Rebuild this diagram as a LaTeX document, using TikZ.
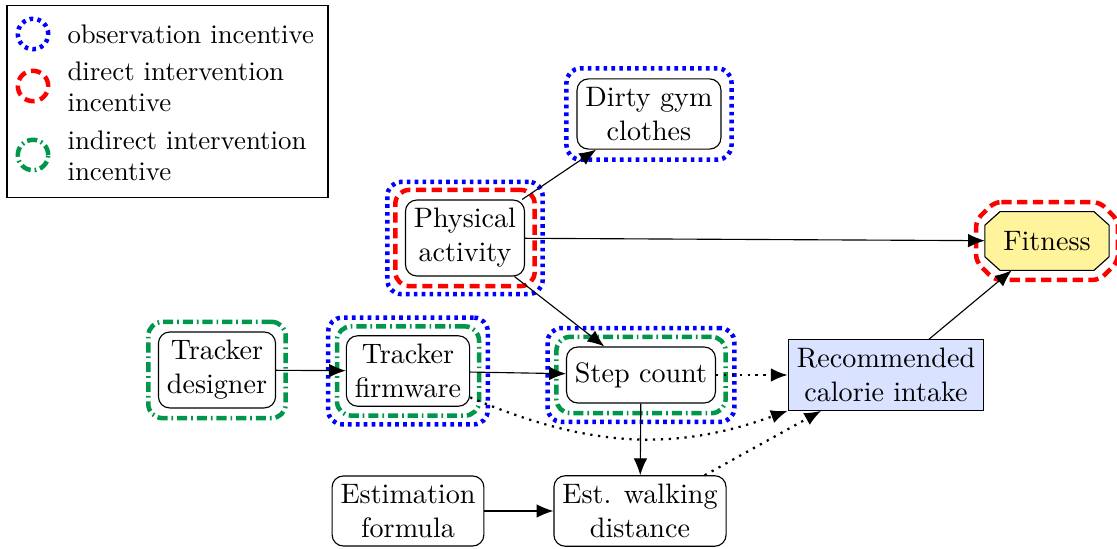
\documentclass[tikz,border=0pt]{standalone}
\usepackage{tikz}
\usetikzlibrary{arrows.meta,fit}
\definecolor{incgreen}{RGB}{0,150,75}
\definecolor{fityellow}{RGB}{255,243,155}
\definecolor{decblue}{RGB}{217,226,255}

\begin{document}
\begin{tikzpicture}[
						x=0.0125cm,
						y=-0.0125cm,
						>={Latex[length=2.1mm,width=1.7mm]},
						var/.style={draw, rounded corners=4pt, align=center, inner sep=3pt, minimum height=0.7cm},
						util/.style={inner sep=0, minimum width=1.54cm, minimum height=0.72cm},
						decision/.style={draw, rectangle, fill=decblue, align=center, inner sep=3pt},
						legendtext/.style={anchor=west, align=left, inner sep=0, font=\fontsize{9.55pt}{11pt}\selectfont},
						obsinc/.style={draw=blue, line width=1.6pt, dash pattern=on 1.3pt off 1.5pt, rounded corners=5pt},
						dirinc/.style={draw=red, line width=1.6pt, dash pattern=on 3.6pt off 2pt, rounded corners=5pt},
						indinc/.style={draw=incgreen, line width=1.6pt, dash pattern=on 3.6pt off 1.4pt on 0.6pt off 1.4pt, rounded corners=5pt},
						info/.style={->, line width=0.8pt, dash pattern=on 0.8pt off 2pt}
					]
					\useasboundingbox (0,0) rectangle (1117,549);
					\node[draw, inner sep=0, minimum width=4.01cm, minimum height=2.39cm] (legend) at (167.5,101.5) {};
					\node[obsinc, circle, inner sep=0, minimum size=0.38cm] (lobs) at (33,34) {};
					\node[dirinc, circle, inner sep=0, minimum size=0.38cm] (ldir) at (33,86) {};
					\node[indinc, circle, inner sep=0, minimum size=0.38cm] (lind) at (33,155) {};
					\node[legendtext] (tobs) at (67,34) {observation incentive};
					\node[legendtext] (tdir) at (67,87) {direct intervention\\incentive};
					\node[legendtext] (tind) at (67,156) {indirect intervention\\incentive};
					\node[var] (dgc) at (649,114) {Dirty gym\\clothes};
					\node[var] (pa) at (465,238) {Physical\\activity};
					\node[util] (fitness) at (1047,241) {};
					\node[decision] (rci) at (886,375) {Recommended\\calorie intake};
					\node[var] (td) at (217,370) {Tracker\\designer};
					\node[var] (tf) at (408,371) {Tracker\\firmware};
					\node[var] (sc) at (641,375) {Step count};
					\node[var] (ef) at (408,511) {Estimation\\formula};
					\node[var] (ewd) at (640,511) {Est. walking\\distance};
					\draw[fill=fityellow] ([xshift=0.19cm]fitness.north west) -- ([xshift=-0.19cm]fitness.north east) -- ([yshift=-0.17cm]fitness.north east) -- ([yshift=0.17cm]fitness.south east) -- ([xshift=-0.19cm]fitness.south east) -- ([xshift=0.19cm]fitness.south west) -- ([yshift=0.17cm]fitness.south west) -- ([yshift=-0.17cm]fitness.north west) -- cycle;
					\node at (fitness.center) {Fitness};
					\draw[dirinc, rounded corners=2.5pt] ([shift={(0.12cm,0.12cm)}]fitness.north west) -- ([shift={(-0.12cm,0.12cm)}]fitness.north east) -- ([shift={(0.11cm,-0.11cm)}]fitness.north east) -- ([shift={(0.11cm,0.11cm)}]fitness.south east) -- ([shift={(-0.12cm,-0.12cm)}]fitness.south east) -- ([shift={(0.12cm,-0.12cm)}]fitness.south west) -- ([shift={(-0.11cm,0.11cm)}]fitness.south west) -- ([shift={(-0.11cm,-0.11cm)}]fitness.north west) -- cycle;
					\node[obsinc, fit=(dgc), inner sep=0.125cm] (dgcobs) {};
					\node[dirinc, fit=(pa), inner sep=0.12cm] (padir) {};
					\node[obsinc, fit=(pa), inner sep=0.22cm] (paobs) {};
					\node[indinc, fit=(td), inner sep=0.12cm] (tdind) {};
					\node[indinc, fit=(tf), inner sep=0.11cm] (tfind) {};
					\node[obsinc, fit=(tf), inner sep=0.22cm] (tfobs) {};
					\node[indinc, fit=(sc), inner sep=0.12cm] (scind) {};
					\node[obsinc, fit=(sc), inner sep=0.23cm] (scobs) {};
					\draw[->] (pa) -- (dgc);
					\draw[->] (pa) -- (fitness);
					\draw[->] (pa) -- (sc);
					\draw[->] (td) -- (tf);
					\draw[->] (tf) -- (sc);
					\draw[->] (sc) -- (ewd);
					\draw[->] (ef) -- (ewd);
					\draw[->] (rci) -- (fitness);
					\draw[info] (sc) -- (rci);
					\draw[info] (ewd) -- (rci);
					\draw[info] (tf) to[out=-23, in=-160] (rci);
				\end{tikzpicture}
\end{document}
